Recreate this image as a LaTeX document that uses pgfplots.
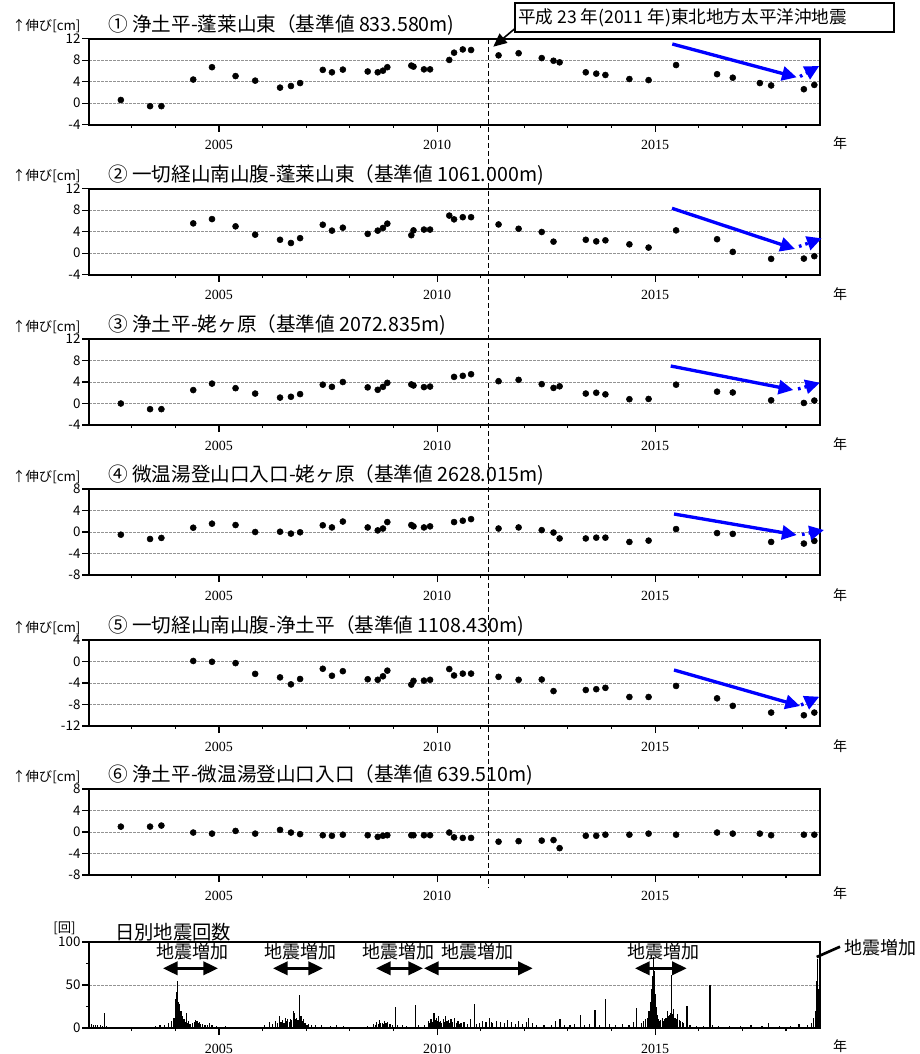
\documentclass[border=0pt]{standalone}
\usepackage{pgfplots}
\pgfplotsset{compat=1.18}
\usepackage{fontspec}
\setmainfont{Liberation Serif}
\newfontfamily\jp{Noto Sans CJK JP}
\usetikzlibrary{arrows.meta}

\pgfplotsset{
  panel/.style={
    scale only axis, width=548.25pt, height=64.5pt,
    anchor=north west,
    xmin=2002.02, xmax=2018.78,
    xtick={2005,2010,2015},
    minor xtick={2003,2004,2006,2007,2008,2009,2011,2012,2013,2014,2016,2017,2018},
    tick align=outside, tick pos=left,
    major tick length=5.25pt, minor tick length=2.4pt,
    every tick/.style={black, line width=0.8pt},
    axis line style={line width=1.2pt},
    ymajorgrids,
    grid style={gray!85, line width=0.5pt, dash pattern=on 2pt off 1pt},
    /pgf/number format/assume math mode=true,
    /pgf/number format/1000 sep={},
    xticklabel style={font=\fontsize{10.5}{10.5}\selectfont, yshift=-3pt},
    yticklabel style={font=\jp\fontsize{10}{10}\selectfont, inner sep=1pt},
  },
  dots/.style={only marks, mark=*, mark size=2.25pt, black},
  dispA/.style={panel, ymin=-4, ymax=12, ytick={-4,0,4,8,12}},
  dispB/.style={panel, ymin=-8, ymax=8, ytick={-8,-4,0,4,8}},
  dispC/.style={panel, ymin=-12, ymax=4, ytick={-12,-8,-4,0,4}},
}

\tikzset{
  trend/.style={blue, line width=2.5pt, -{Triangle[length=11pt,width=10.5pt]}},
  trendnext/.style={blue, line width=2.5pt, dash pattern=on 2pt off 3pt,
    -{Triangle[length=11pt,width=10.5pt]}},
  span/.style={black, line width=2.2pt,
    {Triangle[length=11pt,width=10pt]}-{Triangle[length=11pt,width=10pt]}},
  ttl/.style={anchor=west, inner sep=0pt, font=\jp\fontsize{14.7}{14.7}\selectfont},
  ylab/.style={anchor=west, inner sep=0pt, font=\jp\fontsize{10}{10}\selectfont},
  nen/.style={inner sep=0pt, font=\jp\fontsize{10.5}{10.5}\selectfont},
  inc/.style={inner sep=0pt, font=\jp\fontsize{13.5}{13.5}\selectfont},
}

\begin{document}
\begin{tikzpicture}[x=0.75pt, y=-0.75pt]
\path[use as bounding box] (0,0) rectangle (920,1054);

% (1) Jodaira - Horaisan-higashi
\begin{axis}[dispA, at={(66.75pt,-29.03pt)}]
\addplot[dots] coordinates {
(2002.75,0.6)(2003.42,-0.55)(2003.68,-0.55)(2004.41,4.4)(2004.84,6.7)
(2005.38,5.05)(2005.83,4.2)(2006.40,2.9)(2006.65,3.2)(2006.86,3.75)
(2007.38,6.2)(2007.59,5.75)(2007.84,6.25)(2008.41,5.9)(2008.64,5.75)
(2008.76,6.05)(2008.86,6.7)(2009.41,7.0)(2009.46,6.8)(2009.70,6.3)
(2009.84,6.3)(2010.28,8.05)(2010.39,9.4)(2010.59,10.0)(2010.78,9.9)
(2011.41,8.9)(2011.87,9.3)(2012.40,8.4)(2012.67,7.9)(2012.81,7.6)
(2013.41,5.75)(2013.65,5.5)(2013.86,5.25)(2014.41,4.5)(2014.85,4.3)
(2015.48,7.1)(2016.42,5.4)(2016.78,4.75)(2017.40,3.75)(2017.66,3.3)
(2018.41,2.6)(2018.65,3.4)};
\end{axis}

% (2) Issaikyo south slope - Horaisan-higashi
\begin{axis}[dispA, at={(66.75pt,-141.53pt)}]
\addplot[dots] coordinates {
(2004.41,5.55)(2004.84,6.35)(2005.38,5.0)(2005.83,3.45)(2006.40,2.5)
(2006.65,1.9)(2006.86,2.8)(2007.38,5.3)(2007.59,4.2)(2007.84,4.75)
(2008.41,3.6)(2008.64,4.2)(2008.76,4.7)(2008.86,5.5)(2009.41,3.35)
(2009.46,4.25)(2009.70,4.4)(2009.84,4.4)(2010.28,7.0)(2010.39,6.3)
(2010.59,6.7)(2010.78,6.7)(2011.41,5.35)(2011.87,4.55)(2012.40,3.95)
(2012.67,2.15)(2013.41,2.5)(2013.65,2.2)(2013.86,2.4)(2014.41,1.65)
(2014.85,1.05)(2015.48,4.25)(2016.42,2.6)(2016.78,0.25)(2017.66,-1.05)
(2018.41,-1.0)(2018.65,-0.55)};
\end{axis}

% (3) Jodaira - Ubagahara
\begin{axis}[dispA, at={(66.75pt,-254.25pt)}]
\addplot[dots] coordinates {
(2002.75,0.0)(2003.42,-1.05)(2003.68,-1.05)(2004.41,2.5)(2004.84,3.7)
(2005.38,2.85)(2005.83,1.85)(2006.40,1.1)(2006.65,1.25)(2006.86,1.75)
(2007.38,3.5)(2007.59,3.1)(2007.84,4.0)(2008.41,3.0)(2008.64,2.55)
(2008.76,3.1)(2008.86,3.85)(2009.41,3.55)(2009.46,3.35)(2009.70,3.05)
(2009.84,3.15)(2010.39,4.95)(2010.59,5.15)(2010.78,5.45)(2011.41,4.15)
(2011.87,4.4)(2012.40,3.6)(2012.67,2.9)(2012.81,3.2)(2013.41,1.85)
(2013.65,2.0)(2013.86,1.7)(2014.41,0.8)(2014.85,0.85)(2015.48,3.5)
(2016.42,2.2)(2016.78,2.05)(2017.66,0.6)(2018.41,0.1)(2018.65,0.55)};
\end{axis}

% (4) Nuruyu trailhead - Ubagahara
\begin{axis}[dispB, at={(66.75pt,-366.75pt)}]
\addplot[dots] coordinates {
(2002.75,-0.5)(2003.42,-1.3)(2003.68,-1.1)(2004.41,0.8)(2004.84,1.55)
(2005.38,1.3)(2005.83,0.0)(2006.40,0.05)(2006.65,-0.3)(2006.86,-0.05)
(2007.38,1.25)(2007.59,0.85)(2007.84,1.95)(2008.41,0.85)(2008.64,0.3)
(2008.76,0.65)(2008.86,1.85)(2009.41,1.3)(2009.46,1.05)(2009.70,0.85)
(2009.84,1.05)(2010.39,1.85)(2010.59,2.1)(2010.78,2.4)(2011.41,0.65)
(2011.87,0.85)(2012.40,0.35)(2012.67,-0.1)(2012.81,-1.2)(2013.41,-1.2)
(2013.65,-1.05)(2013.86,-1.05)(2014.41,-1.85)(2014.85,-1.6)(2015.48,0.55)
(2016.42,-0.2)(2016.78,-0.35)(2017.66,-1.85)(2018.41,-2.15)(2018.65,-1.65)};
\end{axis}

% (5) Issaikyo south slope - Jodaira
\begin{axis}[dispC, at={(66.75pt,-480pt)}]
\addplot[dots] coordinates {
(2004.41,0.1)(2004.84,-0.05)(2005.38,-0.3)(2005.83,-2.3)(2006.40,-2.95)
(2006.65,-4.25)(2006.86,-3.25)(2007.38,-1.35)(2007.59,-2.65)(2007.84,-1.8)
(2008.41,-3.3)(2008.64,-3.4)(2008.76,-2.75)(2008.86,-1.7)(2009.41,-4.3)
(2009.46,-3.6)(2009.70,-3.55)(2009.84,-3.4)(2010.28,-1.4)(2010.39,-2.6)
(2010.59,-2.25)(2010.78,-2.25)(2011.41,-2.85)(2011.87,-3.4)(2012.40,-3.35)
(2012.67,-5.5)(2013.41,-5.3)(2013.65,-5.15)(2013.86,-4.9)(2014.41,-6.6)
(2014.85,-6.6)(2015.48,-4.55)(2016.42,-6.85)(2016.78,-8.25)(2017.66,-9.5)
(2018.41,-10.0)(2018.65,-9.5)};
\end{axis}

% (6) Jodaira - Nuruyu trailhead
\begin{axis}[dispB, at={(66.75pt,-591.75pt)}]
\addplot[dots] coordinates {
(2002.75,1.0)(2003.42,1.0)(2003.68,1.2)(2004.41,-0.1)(2004.84,-0.3)
(2005.38,0.2)(2005.83,-0.3)(2006.40,0.4)(2006.65,-0.1)(2006.86,-0.4)
(2007.38,-0.6)(2007.59,-0.7)(2007.84,-0.5)(2008.41,-0.6)(2008.64,-0.9)
(2008.76,-0.7)(2008.86,-0.6)(2009.41,-0.6)(2009.46,-0.6)(2009.70,-0.6)
(2009.84,-0.6)(2010.28,-0.1)(2010.39,-1.0)(2010.59,-1.1)(2010.78,-1.1)
(2011.41,-1.8)(2011.87,-1.7)(2012.40,-1.6)(2012.67,-1.5)(2012.81,-3.0)
(2013.41,-0.7)(2013.65,-0.7)(2013.86,-0.5)(2014.41,-0.5)(2014.85,-0.3)
(2015.48,-0.5)(2016.42,-0.1)(2016.78,-0.3)(2017.40,-0.3)(2017.66,-0.6)
(2018.41,-0.5)(2018.65,-0.5)};
\end{axis}

% daily number of earthquakes
\begin{axis}[panel, at={(66.75pt,-706.5pt)},
  ymin=0, ymax=100, ytick={0,50,100}, minor ytick={25,75}]
\addplot[ycomb, black, line width=0.9pt, mark=none] coordinates {
(2002.04,7)(2002.08,5)(2002.12,4)(2002.16,3)(2002.22,4)(2002.28,3)(2002.33,2)
(2002.37,18)(2002.42,2)(2003.55,2)(2003.65,3)(2003.75,4)(2003.85,6)(2003.92,8)
(2003.97,12)(2004.01,34)(2004.03,42)(2004.05,55)(2004.07,30)(2004.09,22)
(2004.10,28)(2004.12,16)(2004.13,20)(2004.15,12)(2004.16,14)(2004.18,9)
(2004.20,10)(2004.22,7)(2004.25,17)(2004.28,6)(2004.30,8)(2004.33,5)(2004.35,5)
(2004.40,6)(2004.44,7)(2004.46,9)(2004.48,8)(2004.50,8)(2004.53,6)(2004.55,7)
(2004.58,5)(2004.62,5)(2004.66,4)(2004.70,4)(2004.74,3)(2004.78,6)(2004.82,3)
(2004.86,3)(2004.95,2)(2005.15,2)(2005.40,1)(2005.70,1)(2006.05,3)(2006.15,7)
(2006.22,5)(2006.30,8)(2006.34,6)(2006.38,14)(2006.42,7)(2006.45,9)(2006.49,6)
(2006.52,12)(2006.55,8)(2006.58,10)(2006.61,7)(2006.64,11)(2006.67,9)
(2006.70,20)(2006.72,14)(2006.74,18)(2006.76,10)(2006.78,12)(2006.81,9)
(2006.84,38)(2006.86,11)(2006.88,14)(2006.91,8)(2006.93,10)(2006.96,6)
(2006.98,6)(2007.02,4)(2007.05,5)(2007.12,4)(2007.22,3)(2007.35,3)(2007.55,2)
(2007.70,3)(2007.85,2)(2008.10,1)(2008.40,2)(2008.55,5)(2008.59,4)(2008.62,7)
(2008.65,5)(2008.68,9)(2008.71,6)(2008.74,6)(2008.77,5)(2008.80,8)(2008.83,6)
(2008.86,7)(2008.92,5)(2008.98,3)(2009.04,25)(2009.10,4)(2009.20,3)(2009.30,2)
(2009.50,27)(2009.58,3)(2009.72,4)(2009.80,8)(2009.84,6)(2009.86,10)(2009.90,7)
(2009.93,17)(2009.96,9)(2009.98,12)(2010.01,8)(2010.03,14)(2010.06,7)
(2010.08,8)(2010.11,6)(2010.14,10)(2010.17,7)(2010.20,14)(2010.23,8)
(2010.26,9)(2010.29,6)(2010.32,11)(2010.36,7)(2010.40,12)(2010.44,6)
(2010.48,8)(2010.52,5)(2010.55,6)(2010.62,7)(2010.70,5)(2010.77,10)
(2010.85,28)(2010.90,5)(2010.97,6)(2011.05,8)(2011.12,7)(2011.20,12)(2011.24,7)
(2011.28,6)(2011.36,8)(2011.45,7)(2011.55,6)(2011.62,9)(2011.70,7)(2011.80,5)
(2011.86,8)(2011.95,5)(2012.05,7)(2012.10,12)(2012.18,6)(2012.28,4)(2012.45,3)
(2012.62,4)(2012.72,8)(2012.82,10)(2012.92,3)(2013.05,4)(2013.15,5)(2013.28,15)
(2013.38,4)(2013.50,5)(2013.62,21)(2013.72,4)(2013.87,34)(2013.95,5)(2014.10,3)
(2014.25,5)(2014.40,4)(2014.50,7)(2014.58,23)(2014.68,6)(2014.74,8)(2014.78,10)
(2014.82,12)(2014.86,20)(2014.88,16)(2014.90,30)(2014.92,38)(2014.93,45)
(2014.95,60)(2014.96,70)(2014.97,82)(2014.98,66)(2014.99,58)(2015.00,40)
(2015.02,25)(2015.04,18)(2015.05,15)(2015.08,10)(2015.10,8)(2015.13,9)
(2015.16,12)(2015.19,8)(2015.22,10)(2015.25,12)(2015.28,20)(2015.30,14)
(2015.33,15)(2015.36,18)(2015.38,62)(2015.40,16)(2015.42,22)(2015.45,12)
(2015.47,12)(2015.50,10)(2015.52,16)(2015.55,9)(2015.58,8)(2015.62,7)
(2015.65,6)(2015.73,26)(2015.80,3)(2015.95,2)(2016.10,2)(2016.26,50)(2016.32,3)
(2016.45,2)(2016.70,2)(2016.95,2)(2017.20,3)(2017.45,2)(2017.60,6)(2017.85,2)
(2018.10,2)(2018.30,5)(2018.50,3)(2018.58,6)(2018.64,12)(2018.68,20)
(2018.71,55)(2018.73,80)(2018.75,45)(2018.77,30)};
\end{axis}

% titles
\node[ylab] at (12,26) {↑伸び[cm]};
\node[ttl] at (108,25.2) {① 浄土平-蓬莱山東（基準値 833.580m)};
\node[ylab] at (12,176) {↑伸び[cm]};
\node[ttl] at (108,175.2) {② 一切経山南山腹-蓬莱山東（基準値 1061.000m)};
\node[ylab] at (12,326.5) {↑伸び[cm]};
\node[ttl] at (108,325.5) {③ 浄土平-姥ヶ原（基準値 2072.835m)};
\node[ylab] at (12,476.5) {↑伸び[cm]};
\node[ttl] at (108,475.5) {④ 微温湯登山口入口-姥ヶ原（基準値 2628.015m)};
\node[ylab] at (12,627.5) {↑伸び[cm]};
\node[ttl] at (108,626.5) {⑤ 一切経山南山腹-浄土平（基準値 1108.430m)};
\node[ylab] at (12,776.5) {↑伸び[cm]};
\node[ttl] at (108,775.5) {⑥ 浄土平-微温湯登山口入口（基準値 639.510m)};
\node[ylab] at (53,928) {[回]};
\node[ttl, font=\jp\fontsize{14.5}{14.5}\selectfont] at (115,932) {日別地震回数};

% year unit labels
\foreach \yy in {143,293.7,444.5,595.5,745.7,893,1046}
  \node[nen] at (840,\yy) {年};

% 2011 Tohoku earthquake marker
\draw[black, line width=0.6pt, dash pattern=on 4pt off 2pt] (488.8,39) -- (488.8,888);
\draw[black, line width=1pt, fill=white] (515,3) rectangle (894,32);
\node[anchor=west, inner sep=0pt, font=\jp\fontsize{13.2}{13.2}\selectfont]
  at (518,17.5) {平成 23 年(2011 年)東北地方太平洋沖地震};
\draw[black, line width=1.2pt, -{Triangle[length=10pt,width=9pt]}] (515,28.5) -- (493.3,46.7);

% trend arrows
\draw[trend] (672.3,44) -- (796.7,77.3);
\draw[trendnext] (800,76.5) -- (819.3,66);
\draw[trend] (672,208.3) -- (795,249);
\draw[trendnext] (799,246.5) -- (821.7,238.3);
\draw[trend] (670.7,366) -- (793.3,390);
\draw[trendnext] (798,389) -- (820,382.7);
\draw[trend] (674,514) -- (796.7,535);
\draw[trendnext] (802,534.5) -- (824,530);
\draw[trend] (674,670) -- (800,706);
\draw[trendnext] (801,705) -- (819.3,696.7);

% periods of increased seismicity
\node[inc] at (192.5,951.7) {地震増加};
\draw[span] (163,968.3) -- (218,968.3);
\node[inc] at (300,951.7) {地震増加};
\draw[span] (273,968.3) -- (323,968.3);
\node[inc] at (398,951.7) {地震増加};
\draw[span] (376,968.3) -- (423,968.3);
\node[inc] at (477,951.7) {地震増加};
\draw[span] (424,968.3) -- (532.7,968.3);
\node[inc] at (663,951.7) {地震増加};
\draw[span] (635,968.3) -- (686.7,968.3);
\node[inc] at (880.5,948) {地震増加};
\draw[black, line width=2pt] (816.7,957) -- (840,946.7);
\end{tikzpicture}
\end{document}
